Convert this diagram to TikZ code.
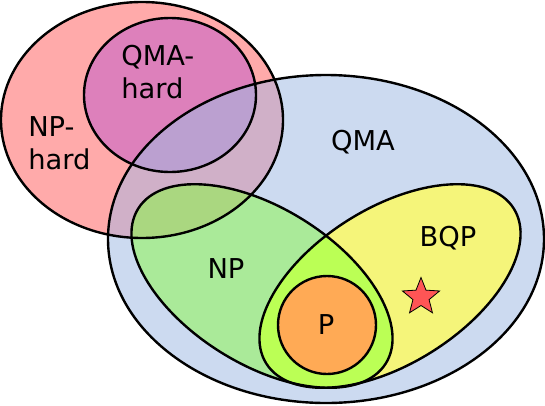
\documentclass[tikz,border=0pt]{standalone}
\usepackage{fontspec}
\setmainfont{DejaVu Sans}
\definecolor{cQMA}{RGB}{204,218,240}
\definecolor{cNPH}{RGB}{255,170,170}
\definecolor{cQMAH}{RGB}{221,128,187}
\definecolor{cQMAHin}{RGB}{187,160,208}
\definecolor{cNPHin}{RGB}{208,176,200}
\definecolor{cNPin}{RGB}{170,215,128}
\definecolor{cNP}{RGB}{170,234,153}
\definecolor{cBQP}{RGB}{245,245,122}
\definecolor{cLens}{RGB}{187,255,85}
\definecolor{cP}{RGB}{255,170,85}
\definecolor{cStar}{RGB}{255,85,85}
\tikzset{
  pQMA/.style={insert path={(326,166) ellipse [x radius=218, y radius=164]}},
  pNPH/.style={insert path={(142,285) ellipse [x radius=141, y radius=118]}},
  pQMAH/.style={insert path={(170,310) ellipse [x radius=86, y radius=77]}},
  pNP/.style={insert path={(262,119) ellipse [x radius=146, y radius=78, rotate=-32]}},
  pBQP/.style={insert path={(390,119) ellipse [x radius=146, y radius=78, rotate=32]}},
  pP/.style={insert path={(327,80) circle [radius=49]}},
  outline/.style={draw=black, line width=1.8pt},
  lbl/.style={inner sep=0pt, font=\fontsize{20.5}{24.75}\selectfont},
}
\begin{document}
\begin{tikzpicture}[x=0.75pt,y=0.75pt]
\useasboundingbox (0,0) rectangle (545,405);
% fills
\fill[cNPH, pNPH];
\fill[cQMAH, pQMAH];
\fill[cQMA, pQMA];
\begin{scope}
  \clip[pQMA];
  \fill[cNPHin, pNPH];
  \fill[cQMAHin, pQMAH];
\end{scope}
\fill[cNP, pNP];
\begin{scope}
  \clip[pNPH];
  \fill[cNPin, pNP];
\end{scope}
\fill[cBQP, pBQP];
\begin{scope}
  \clip[pNP];
  \fill[cLens, pBQP];
\end{scope}
\fill[cP, pP];
% outlines
\path[outline, pNPH];
\path[outline, pQMAH];
\path[outline, pQMA];
\path[outline, pNP];
\path[outline, pBQP];
\path[outline, pP];
% star
\filldraw[fill=cStar, draw=black, line width=0.6pt, shift={(421,108)}]
  (90:19.5) -- (126:8.5) -- (162:19.5) -- (198:8.5) -- (234:19.5) -- (270:8.5)
  -- (306:19.5) -- (342:8.5) -- (18:19.5) -- (54:8.5) -- cycle;
% labels
\node[lbl, anchor=west, align=left] (qmahard) at (121,333) {QMA-\\hard};
\node[lbl, anchor=west, align=left] (nphard) at (28,262) {NP-\\hard};
\node[lbl] (qma) at (363,263) {QMA};
\node[lbl] (np) at (226,136) {NP};
\node[lbl] (bqp) at (448,167) {BQP};
\node[lbl] (p) at (326,80) {P};
\end{tikzpicture}
\end{document}
